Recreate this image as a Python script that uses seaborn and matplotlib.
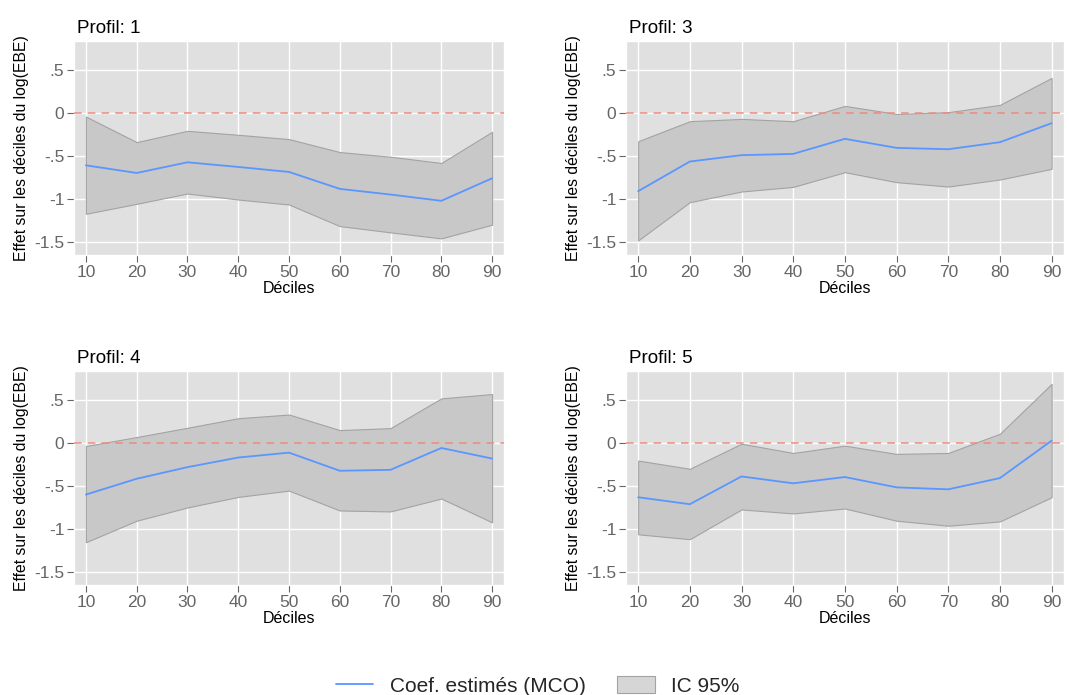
import numpy as np
import pandas as pd
import matplotlib
matplotlib.use("Agg")
import matplotlib.pyplot as plt
import seaborn as sns
from matplotlib.lines import Line2D
from matplotlib.patches import Patch

deciles = [10, 20, 30, 40, 50, 60, 70, 80, 90]
profiles = ["1", "3", "4", "5"]

coef_p1 = [-0.606, -0.695, -0.571, -0.625, -0.683, -0.880, -0.946, -1.019, -0.757]
upper_p1 = [-0.039, -0.336, -0.205, -0.251, -0.301, -0.452, -0.506, -0.579, -0.216]
lower_p1 = [-1.170, -1.054, -0.934, -1.004, -1.062, -1.313, -1.386, -1.456, -1.297]

coef_p3 = [-0.907, -0.562, -0.488, -0.473, -0.298, -0.403, -0.419, -0.337, -0.116]
upper_p3 = [-0.326, -0.093, -0.066, -0.093, 0.085, -0.008, 0.012, 0.097, 0.411]
lower_p3 = [-1.480, -1.035, -0.911, -0.857, -0.686, -0.802, -0.853, -0.771, -0.647]

coef_p4 = [-0.596, -0.412, -0.277, -0.165, -0.108, -0.319, -0.308, -0.054, -0.177]
upper_p4 = [-0.031, 0.073, 0.181, 0.292, 0.335, 0.154, 0.177, 0.523, 0.573]
lower_p4 = [-1.150, -0.900, -0.746, -0.623, -0.550, -0.781, -0.792, -0.642, -0.919]

coef_p5 = [-0.627, -0.708, -0.385, -0.465, -0.392, -0.512, -0.535, -0.404, 0.031]
upper_p5 = [-0.200, -0.296, -0.004, -0.112, -0.027, -0.123, -0.112, 0.112, 0.692]
lower_p5 = [-1.058, -1.115, -0.769, -0.815, -0.758, -0.900, -0.958, -0.908, -0.627]

ytick_vals = [0.5, 0, -0.5, -1, -1.5]
ytick_labels = [".5", "0", "-.5", "-1", "-1.5"]

series = {
    "1": (coef_p1, lower_p1, upper_p1),
    "3": (coef_p3, lower_p3, upper_p3),
    "4": (coef_p4, lower_p4, upper_p4),
    "5": (coef_p5, lower_p5, upper_p5),
}

rows = []
for p in profiles:
    c, lo, up = series[p]
    for d, cv, lv, uv in zip(deciles, c, lo, up):
        rows.append({"profil": p, "decile": d, "coef": cv, "lower": lv, "upper": uv})
df = pd.DataFrame(rows)

sns.set_theme(style="whitegrid", rc={
    "axes.facecolor": "#e0e0e0",
    "grid.color": "white",
    "grid.linewidth": 1.0,
    "axes.edgecolor": "white",
})
plt.rcParams["font.family"] = ["Liberation Sans", "DejaVu Sans"]

LINE_COLOR = "#5a96ff"
FILL_COLOR = "#c8c8c8"
EDGE_COLOR = "#a3a3a3"
TICK_COLOR = "#666666"

fig = plt.figure(figsize=(10.69, 6.95), dpi=100)
positions = [
    [0.0692, 0.633, 0.4023, 0.308],
    [0.5856, 0.633, 0.4095, 0.308],
    [0.0692, 0.158, 0.4023, 0.308],
    [0.5856, 0.158, 0.4095, 0.308],
]

for p, pos in zip(profiles, positions):
    ax = fig.add_axes(pos)
    sub = df[df["profil"] == p]
    ax.fill_between(sub["decile"], sub["lower"], sub["upper"], facecolor=FILL_COLOR,
                    edgecolor=EDGE_COLOR, linewidth=0.8, zorder=2)
    ax.axhline(0, color="#f08a80", linestyle=(0, (5, 4)), linewidth=1.1, zorder=3)
    sns.lineplot(data=sub, x="decile", y="coef", ax=ax, color=LINE_COLOR,
                 linewidth=1.3, zorder=4, legend=False)
    ax.set_xlim(7.65, 92.35)
    ax.set_ylim(-1.65, 0.84)
    ax.set_xticks(deciles)
    ax.set_xticklabels([str(d) for d in deciles])
    ax.set_yticks(ytick_vals)
    ax.set_yticklabels(ytick_labels)
    ax.grid(True, color="white", linewidth=1.0, zorder=0)
    ax.set_axisbelow(True)
    for s in ax.spines.values():
        s.set_visible(True)
        s.set_color("white")
        s.set_linewidth(1.0)
    ax.tick_params(axis="both", which="major", length=5, width=0.8, color=TICK_COLOR,
                   labelcolor=TICK_COLOR, labelsize=12.5, pad=2, direction="out",
                   left=True, bottom=True)
    ax.set_xlabel("Déciles", fontsize=11.5, color="black", labelpad=1)
    ax.set_ylabel("Effet sur les déciles du log(EBE)", fontsize=11.3, color="black")
    ax.yaxis.set_label_coords(-0.105 * 430 / (pos[2] * 1069), 0.5)
    ax.set_title(f"Profil: {p}", loc="left", fontsize=13.5, color="black", pad=6, x=0.007)

handles = [
    Line2D([0], [0], color=LINE_COLOR, linewidth=1.3),
    Patch(facecolor="#d6d6d6", edgecolor="#a3a3a3", linewidth=0.8),
]
fig.legend(handles, ["Coef. estimés (MCO)", "IC 95%"], loc="center",
           bbox_to_anchor=(0.503, 0.013), ncol=2, frameon=False, fontsize=15,
           handlelength=1.8, handleheight=0.85, columnspacing=1.5, handletextpad=0.8)

fig.savefig("out.png", dpi=100, facecolor="white")
